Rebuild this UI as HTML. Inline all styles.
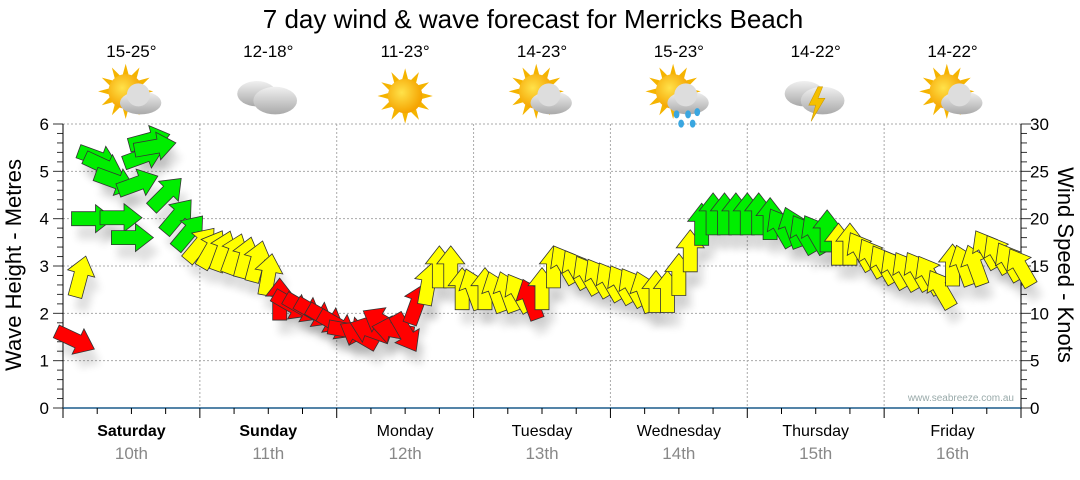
<!DOCTYPE html>
<html><head><meta charset="utf-8"><style>
body{margin:0;background:#fff;width:1080px;height:475px;overflow:hidden;font-family:"Liberation Sans",sans-serif}
</style></head><body>
<svg id="chart" width="1080" height="475" xmlns="http://www.w3.org/2000/svg" font-family="Liberation Sans, sans-serif">
<defs>
<filter id="sh" x="-50%" y="-50%" width="200%" height="200%"><feGaussianBlur stdDeviation="4"/></filter>
<radialGradient id="sun" cx="0.4" cy="0.4" r="0.6"><stop offset="0" stop-color="#ffe24a"/><stop offset="1" stop-color="#f5a300"/></radialGradient>
<linearGradient id="cloud" x1="0" y1="0" x2="0" y2="1"><stop offset="0" stop-color="#f0f0f0"/><stop offset="1" stop-color="#a9a9a9"/></linearGradient>
</defs>
<text x="533" y="28" font-size="26" text-anchor="middle" fill="#000">7 day wind &amp; wave forecast for Merricks Beach</text>
<g id="grid"></g>
<g id="icons"></g>
<g id="axes"></g>
<g id="arrows"></g>
<text x="1014" y="401" font-size="10" text-anchor="end" fill="#9aa">www.seabreeze.com.au</text>
<text transform="translate(21,265) rotate(-90)" font-size="22" text-anchor="middle">Wave Height - Metres</text>
<text transform="translate(1058,265) rotate(90)" font-size="22" text-anchor="middle">Wind Speed - Knots</text>
</svg>
<script>
const days = ["Saturday","Sunday","Monday","Tuesday","Wednesday","Thursday","Friday"];
const dates = ["10th","11th","12th","13th","14th","15th","16th"];
const temps = ["15-25°","12-18°","11-23°","14-23°","15-23°","14-22°","14-22°"];
const weather = ["partly","cloudy","sunny","partly","shower","storm","partly"];
const waveTicks = [0,1,2,3,4,5,6];
const windTicks = [0,5,10,15,20,25,30];
const hours = [2,3,5,6,7,9,10,12,13,14,15,16,18,20,22,
24,26,28,30,32,34,36,38,40,42,44,46,48,50,52,54,56,58,60,62,64,66,68,70,72,74,76,78,80,82,84,86,88,90,92,94,96,98,100,102,104,106,108,110,112,114,116,118,120,122,124,126,128,130,132,134,136,138,140,142,144,146,148,150,152,154,156,158,160,162,164,166,168];
const speeds = [7.2,13.8,20,26.4,25.6,24,20.1,18,23.7,26.6,28.3,27.6,22.6,20.2,18.5,
17.2,16.7,16.5,16.2,15.8,15.4,14,11.4,10.9,10.6,10.1,9.5,8.8,8.2,7.7,8.2,9.1,8.2,8.0,10.9,13,14.8,14.8,12.5,12.5,12.5,12.2,12.2,12.1,11.4,12.5,14.8,15.1,14.6,14,13.7,13.3,13,12.7,12.2,12.2,12.2,14,16.5,19.3,20.4,20.4,20.4,20.4,20.4,19.9,19,19,18.3,18.3,18.6,17.2,17.2,16.5,15.8,15.1,14.6,14.4,14.4,14,12.5,15,15,15,16.7,16.2,15.4,14.8];
const dirs = [115,15,90,110,115,110,90,90,70,70,75,80,45,40,40,
40,30,20,20,15,15,10,0,120,120,120,120,120,100,300,290,300,280,150,20,10,0,0,0,340,0,340,340,330,340,0,0,330,330,330,330,330,330,330,340,0,0,0,0,0,0,0,0,0,0,0,330,340,330,330,0,0,0,330,330,330,330,330,330,330,330,0,340,340,330,330,330,330];

const X0=63,X1=1021,Y0=408,Y1=124;
const xH=h=>X0+(X1-X0)*h/168;
const yW=m=>Y0-(Y0-Y1)*m/6;
const yS=k=>Y0-(Y0-Y1)*k/30;
const NS="http://www.w3.org/2000/svg";
function mk(tag,attrs,parent){const e=document.createElementNS(NS,tag);for(const k in attrs)e.setAttribute(k,attrs[k]);parent.appendChild(e);return e;}
const grid=document.getElementById('grid'),axes=document.getElementById('axes'),arrows=document.getElementById('arrows'),icons=document.getElementById('icons');

waveTicks.forEach(t=>{if(t>0){const l=mk('line',{x1:X0,x2:X1,y1:yW(t),y2:yW(t),stroke:'#aaa','stroke-dasharray':'2,2'},grid);

}
const tx=mk('text',{x:49,y:yW(t)+6,'font-size':17,'text-anchor':'end'},axes);tx.textContent=t;

});
for(let i=0;i<=30;i++){const y=Y0-(Y0-Y1)*i/30;mk('line',{x1:i%5?57:53,x2:X0,y1:y,y2:y,stroke:'#333'},axes);mk('line',{x1:X1,x2:X1+(i%5?6:10),y1:y,y2:y,stroke:'#333'},axes);}
windTicks.forEach(t=>{const tx=mk('text',{x:1030,y:yS(t)+6,'font-size':17},axes);tx.textContent=t;

});
mk('line',{x1:X0,x2:X0,y1:Y1,y2:Y0+1,stroke:'#000'},axes);
mk('line',{x1:X1,x2:X1,y1:Y1,y2:Y0+1,stroke:'#000'},axes);
mk('line',{x1:X0,x2:X1,y1:Y0,y2:Y0,stroke:'#1b5c8c','stroke-width':1.5},axes);
for(let h=0;h<=168;h+=6){const x=xH(h);mk('line',{x1:x,x2:x,y1:Y0,y2:Y0+(h%24?6:10),stroke:'#000'},axes);}
days.forEach((d,i)=>{const x0=xH(i*24),cx=xH(i*24+12);
if(i>0){const l=mk('line',{x1:x0,x2:x0,y1:Y1,y2:Y0,stroke:'#aaa','stroke-dasharray':'2,2'},grid);

}
const t=mk('text',{x:cx,y:436,'font-size':16,'text-anchor':'middle','font-weight':i<2?'bold':'normal'},axes);t.textContent=d;


const t2=mk('text',{x:cx,y:459,'font-size':17,'text-anchor':'middle',fill:'#888'},axes);t2.textContent=dates[i];


const t3=mk('text',{x:cx,y:57,'font-size':17,'text-anchor':'middle'},icons);t3.textContent=temps[i];


const g=mk('g',{transform:`translate(${cx},96) scale(1.15)`},icons);


const w=weather[i];
if(w!=='cloudy'&&w!=='storm'){const sx=w==='sunny'?0:-5,sy=w==='sunny'?0:-4;
for(let a=0;a<360;a+=30){const r=a*Math.PI/180;mk('polygon',{points:`${sx+Math.cos(r)*24},${sy+Math.sin(r)*24} ${sx+Math.cos(r+0.2)*14},${sy+Math.sin(r+0.2)*14} ${sx+Math.cos(r-0.2)*14},${sy+Math.sin(r-0.2)*14}`,fill:'#f5b400'},g);}
mk('circle',{cx:sx,cy:sy,r:15,fill:'url(#sun)'},g);}
if(w==='partly'||w==='shower'){mk('ellipse',{cx:8,cy:6,rx:18,ry:10,fill:'url(#cloud)'},g);mk('circle',{cx:6,cy:-1,r:10,fill:'#ddd'},g);}
if(w==='shower'){[[-2,16],[8,16],[16,14],[2,24],[12,24]].forEach(p=>mk('ellipse',{cx:p[0],cy:p[1],rx:2.5,ry:3.5,fill:'#3aa6e0'},g));}
if(w==='cloudy'||w==='storm'){mk('ellipse',{cx:-10,cy:-2,rx:17,ry:11,fill:'url(#cloud)'},g);mk('ellipse',{cx:6,cy:4,rx:19,ry:12,fill:'url(#cloud)'},g);}
if(w==='storm'){mk('polygon',{points:'2,-8 -6,8 0,8 -4,22 8,2 2,2 6,-8',fill:'#f5c000',stroke:'#c90','stroke-width':0.5},g);}
});

function col(s){return s<12?'#ff0000':(s<18?'#ffff00':'#00ee00');}
const arrowPts="0,-22 14,-4 7,-4 7,20 -7,20 -7,-4 -14,-4";
hours.forEach((h,i)=>{const x=xH(h),y=yS(speeds[i]);
const sh=mk('polygon',{points:arrowPts,transform:`translate(${x+6},${y+14}) rotate(${dirs[i]})`,fill:'#000',opacity:0.12,filter:'url(#sh)'},arrows);


});
hours.forEach((h,i)=>{const x=xH(h),y=yS(speeds[i]);
const a=mk('polygon',{points:arrowPts,transform:`translate(${x},${y}) rotate(${dirs[i]})`,fill:col(speeds[i]),stroke:'#333','stroke-width':0.8},arrows);


});
</script>
</body></html>
